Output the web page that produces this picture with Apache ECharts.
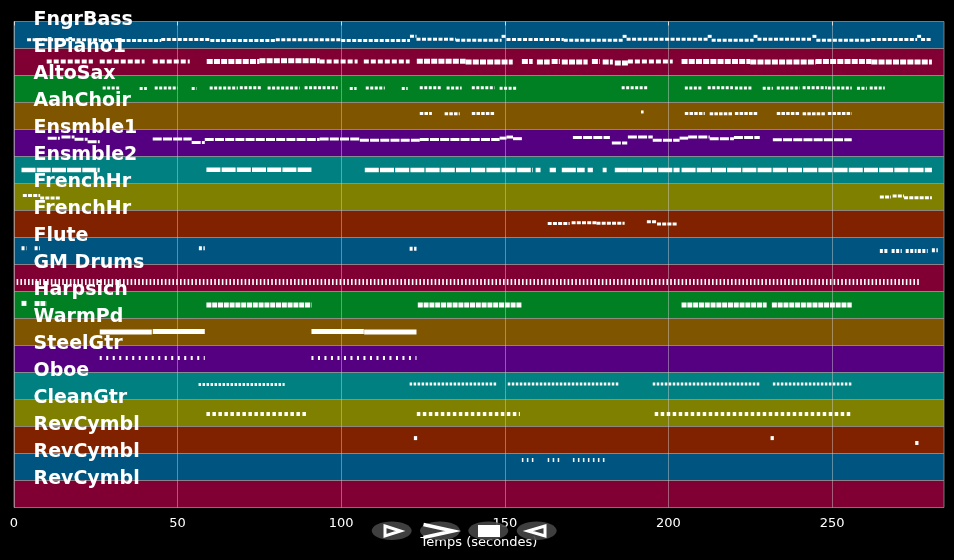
<!DOCTYPE html>
<html><head><meta charset="utf-8">
<script src="https://cdn.jsdelivr.net/npm/echarts@6/dist/echarts.min.js"></script>
<style>html,body{margin:0;padding:0;background:#000;}#chart{width:954px;height:560px;}</style>
</head><body><div id="chart"></div>
<script>
// ---- data ----
const trackNames = ['FngrBass','ElPiano1','AltoSax','AahChoir','Ensmble1','Ensmble2','FrenchHr','FrenchHr','Flute','GM Drums','Harpsich','WarmPd','SteelGtr','Oboe','CleanGtr','RevCymbl','RevCymbl','RevCymbl'];
const xTicks = [0, 50, 100, 150, 200, 250];
const timeMax = 284.2;
// notes: [start (s), end (s), relative pitch within track (0 = low, 1 = high)]
const fngrBass = [[4,26,0.32],[26,45,0.3],[45,60,0.33],[60,80,0.3],[80,100,0.32],[100,121,0.3],[121,123,0.45],[123,135,0.34],[135,149,0.31],[149,150.5,0.45],[150.5,168,0.33],[168,186,0.31],[186,187.2,0.45],[187.2,212,0.34],[212,213.2,0.45],[213.2,226,0.31],[226,227.2,0.45],[227.2,244,0.34],[244,245.2,0.45],[245.2,262,0.31],[262,276,0.33],[276,277.2,0.45],[277.2,280.5,0.33]];
const elPiano1Notes = [[10,24.1,0.52],[26.2,39.9,0.52],[42.4,53.7,0.52],[93.4,105,0.52],[106.9,120.9,0.52],[187.6,201.3,0.52]];
const elPiano1Chords = [[58.9,75,0.52],[75,93.4,0.55],[123.1,138,0.53],[138,152.4,0.5],[155.2,158.5,0.52],[159.8,163.7,0.5],[164.3,166.8,0.52],[167.4,175.3,0.5],[176.6,179,0.52],[179.9,183,0.5],[183.6,187.6,0.46],[204,225,0.52],[225,245,0.5],[245,262,0.52],[262,280.5,0.5]];
const altoSax = [[27.1,32.6,0.54],[38.4,40.6,0.52],[43,50,0.54],[54.3,55.8,0.52],[59.8,68.4,0.54],[69,75.7,0.55],[77.5,87.3,0.54],[88.8,98.9,0.55],[102.6,104.7,0.52],[107.5,113.3,0.54],[118.5,120.3,0.52],[124,130.4,0.55],[132.2,136.8,0.54],[139.9,146.9,0.55],[148.4,153.6,0.53],[185.7,193.7,0.55],[205,210.5,0.54],[212,219.7,0.55],[220.3,225.8,0.54],[228.8,231.9,0.53],[233.1,240.1,0.54],[241,248.4,0.55],[248.7,256,0.54],[257.6,260.6,0.53],[261.5,266.1,0.54]];
const aahChoir = [[124,127.7,0.59],[131.6,136.2,0.58],[139.9,146.9,0.59],[191.6,192.4,0.65],[205,211.1,0.59],[212.6,219.7,0.58],[220.3,227.3,0.59],[233.1,240.1,0.59],[241,247.8,0.58],[248.7,256,0.59]];
const ensmble1 = [[10.3,14,0.68],[14.5,18.5,0.72],[18.5,22.5,0.64],[22.5,26.2,0.55],[42.4,54.3,0.65],[54.3,58.3,0.52],[58.3,93.4,0.63],[93.4,105.7,0.65],[105.7,124,0.6],[124,148.4,0.63],[148.4,150.5,0.68],[150.5,152.5,0.72],[152.5,155.2,0.66],[170.8,182.1,0.7],[182.7,187.4,0.5],[187.6,195.2,0.72],[195.2,203.4,0.6],[203.4,206,0.68],[206,212.6,0.72],[212.6,220,0.66],[220,227.9,0.7],[231.9,256,0.62]];
const ensmble2 = [[2.3,26.2,0.5],[58.8,90.9,0.51],[107.2,158.5,0.5],[159.4,160.9,0.5],[163.7,165.6,0.5],[167.4,174.4,0.5],[175.3,176.9,0.5],[179.9,181.1,0.5],[183.6,187.6,0.5],[187.6,203.4,0.5],[204,280.5,0.5]];
const frenchHr1 = [[2.7,8,0.56],[8,14,0.46],[264.6,268,0.5],[268.5,272,0.54],[272,280.5,0.47]];
const frenchHr2 = [[163.1,169.8,0.52],[170.4,178,0.55],[178,186.6,0.53],[193.4,196.5,0.58],[196.5,202.5,0.5]];
const flute = [[2.3,3.8,0.6],[6.3,7.9,0.6],[56.5,58.3,0.6],[120.9,123,0.58],[264.6,267,0.5],[268.2,271.3,0.5],[272.5,275.8,0.5],[276.2,279.2,0.5],[280.5,282.3,0.53]];
const gmDrums = [[0.8,276.8,0.35]];
const harpsich = [[2.3,3.8,0.56],[6.3,9.9,0.56],[58.8,90.9,0.5],[123.4,155.2,0.5],[204,230,0.5],[231.6,256,0.5]];
const warmPd = [[26.2,42.1,0.5],[42.4,58.3,0.52],[90.9,106.9,0.52],[107,123,0.5]];
const steelGtr = [[26.2,58.3,0.54],[90.9,123,0.54]];
const oboe = [[56.4,82.7,0.56],[120.9,147.5,0.57],[150.9,185.1,0.57],[195.2,227.9,0.57],[231.9,256.3,0.57]];
const cleanGtr = [[58.8,89.9,0.46],[123.1,154.6,0.46],[195.8,256,0.46]];
const revCymbl1 = [[122.2,123.2,0.57],[231.2,232.2,0.57],[275.4,276.4,0.39]];
const revCymbl2 = [[155.2,159.2,0.76],[163.1,167.4,0.76],[170.8,181.3,0.76]];
const revCymbl3 = [];

// ---- styling ----
const bandColors = ['#005580','#800033','#008022','#805500','#550080','#008080','#808000','#802200'];
const noteStyles = {
  bass:{lw:3, dash:[4,1.5]}, spaced:{lw:4, dash:[5,2]}, chords:{lw:5, dash:[6,1.2]},
  sax:{lw:3, dash:[3,1.5]}, choir:{lw:3, dash:[3.5,1.2]}, ens1:{lw:3, dash:[9,1.2]},
  ens2:{lw:4.5, dash:[14,1.2]}, horn:{lw:3, dash:[4,1.2]}, flute:{lw:4, dash:[3,1.5]},
  drums:{lw:6, dash:[1.6,2.2]}, harp:{lw:5, dash:[5,0.8]}, pad:{lw:5, dash:null},
  steel:{lw:4, dash:[2,4.5]}, oboe:{lw:3, dash:[2.5,1.5]}, guitar:{lw:4, dash:[3.5,2.5]},
  cymbal:{lw:4, dash:null}, cymTicks:{lw:4, dash:[1.5,3.5]}
};
const noteGroups = [
  [0, fngrBass, 'bass'], [1, elPiano1Notes, 'spaced'], [1, elPiano1Chords, 'chords'],
  [2, altoSax, 'sax'], [3, aahChoir, 'choir'], [4, ensmble1, 'ens1'], [5, ensmble2, 'ens2'],
  [6, frenchHr1, 'horn'], [7, frenchHr2, 'horn'], [8, flute, 'flute'], [9, gmDrums, 'drums'],
  [10, harpsich, 'harp'], [11, warmPd, 'pad'], [12, steelGtr, 'steel'], [13, oboe, 'oboe'],
  [14, cleanGtr, 'guitar'], [15, revCymbl1, 'cymbal'], [16, revCymbl2, 'cymTicks'], [17, revCymbl3, 'cymbal']
];
const styleKeys = Object.keys(noteStyles);
const noteData = [];
noteGroups.forEach(([tr, notes, st]) => {
  notes.forEach(n => noteData.push([n[0], n[1], tr + (1 - n[2]), styleKeys.indexOf(st)]));
});
const bandData = trackNames.map((n, i) => [0, i]);

const chart = echarts.init(document.getElementById('chart'), null, {renderer:'canvas'});
const option = {
  backgroundColor: '#000',
  animation: false,
  grid: {left: 14, right: 10, top: 21.5, bottom: 52.5, outerBoundsMode: 'none', containLabel: false},
  xAxis: {
    type: 'value', min: 0, max: timeMax, interval: 50, z: 3,
    axisLine: {show: false},
    axisTick: {show: true, length: 4, lineStyle: {color: '#ddd', width: 1}, customValues: xTicks},
    axisLabel: {color: '#fff', fontSize: 13, fontFamily: 'DejaVu Sans', margin: 10, customValues: xTicks},
    splitLine: {show: true, lineStyle: {color: 'rgba(210,210,210,0.45)', width: 1}},
    name: 'Temps (secondes)', nameLocation: 'middle', nameGap: 29,
    nameTextStyle: {color: '#fff', fontSize: 13, fontFamily: 'DejaVu Sans'}
  },
  yAxis: {type: 'value', min: 0, max: trackNames.length, inverse: true, show: false},
  series: [
    {
      type: 'custom', z: 1, silent: true, data: bandData, encode: {x: 0, y: 1},
      renderItem: (params, api) => {
        const i = api.value(1);
        const cs = params.coordSys;
        const top = api.coord([0, i])[1], bot = api.coord([0, i + 1])[1];
        return {type: 'rect', shape: {x: cs.x, y: top, width: cs.width, height: bot - top},
          style: {fill: bandColors[i % bandColors.length], stroke: 'rgba(150,150,150,0.75)', lineWidth: 1}};
      }
    },
    {
      type: 'custom', z: 4, silent: true, data: noteData, encode: {x: [0, 1], y: 2},
      renderItem: (params, api) => {
        const st = noteStyles[styleKeys[api.value(3)]];
        const p1 = api.coord([api.value(0), api.value(2)]);
        const p2 = api.coord([api.value(1), api.value(2)]);
        return {type: 'line', shape: {x1: p1[0], y1: p1[1], x2: p2[0], y2: p2[1]},
          style: {stroke: '#fff', lineWidth: st.lw, lineDash: st.dash, lineCap: 'butt'}};
      }
    },
    {
      type: 'custom', z: 6, silent: true, data: bandData, encode: {x: 0, y: 1},
      renderItem: (params, api) => {
        const i = api.value(1);
        const cs = params.coordSys;
        const top = api.coord([0, i])[1];
        return {type: 'text', style: {text: trackNames[i], x: cs.x + 19.5, y: top - 1,
          fill: '#fff', font: 'bold 19px "DejaVu Sans"', align: 'left', verticalAlign: 'middle'}};
      }
    }
  ],
  graphic: [
    {type: 'ellipse', shape: {cx: 391.7, cy: 530.8, rx: 20, ry: 9.3}, style: {fill: 'rgba(70,70,70,0.9)'}, z: 100},
    {type: 'ellipse', shape: {cx: 440, cy: 530.8, rx: 20, ry: 9.3}, style: {fill: 'rgba(70,70,70,0.9)'}, z: 100},
    {type: 'ellipse', shape: {cx: 488.3, cy: 530.8, rx: 20, ry: 9.3}, style: {fill: 'rgba(70,70,70,0.9)'}, z: 100},
    {type: 'ellipse', shape: {cx: 536.7, cy: 530.8, rx: 20, ry: 9.3}, style: {fill: 'rgba(70,70,70,0.9)'}, z: 100},
    {type: 'polygon', shape: {points: [[385, 526], [400.5, 531], [385, 536]]}, style: {fill: 'none', stroke: '#fff', lineWidth: 3}, z: 101},
    {type: 'polyline', shape: {points: [[423.5, 524.5], [453, 531], [423.5, 537.5]]}, style: {fill: 'none', stroke: '#fff', lineWidth: 3.5}, z: 101},
    {type: 'rect', shape: {x: 478, y: 525, width: 22, height: 12}, style: {fill: '#fff'}, z: 101},
    {type: 'polygon', shape: {points: [[545, 526], [528, 531], [545, 536]]}, style: {fill: 'none', stroke: '#fff', lineWidth: 3}, z: 101}
  ]
};
chart.setOption(option);
</script>
</body></html>
